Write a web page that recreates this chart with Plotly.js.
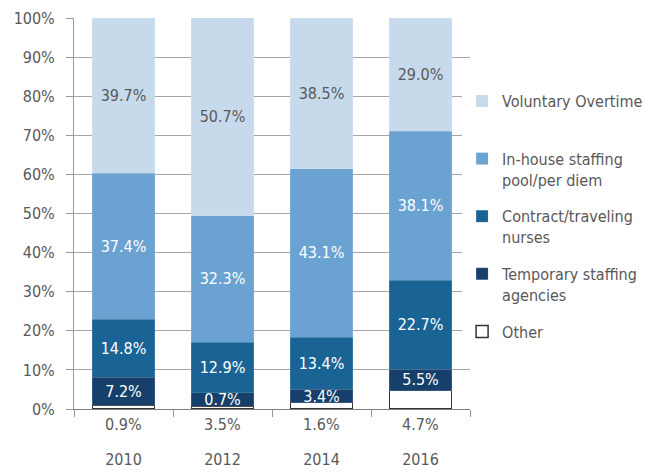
<!DOCTYPE html>
<html>
<head>
<meta charset="utf-8">
<script src="https://cdn.plot.ly/plotly-3.0.1.min.js"></script>
<style>
  body { margin: 0; background: #fff; }
  #chart { width: 645px; height: 472px; }
</style>
</head>
<body>
<div id="chart"></div>
<script>
// survey years
const years = ['2010', '2012', '2014', '2016'];

// segment heights as drawn (percent of total)
const otherVals     = [0.9, 0.7, 1.6, 4.7];
const temporaryVals = [7.2, 3.5, 3.4, 5.5];
const contractVals  = [14.8, 12.9, 13.4, 22.7];
const inHouseVals   = [37.4, 32.3, 43.1, 38.1];
const voluntaryVals = [39.7, 50.7, 38.5, 29.0];

// labels as printed on the chart
const otherLabels     = ['0.9%', '3.5%', '1.6%', '4.7%'];
const temporaryLabels = ['7.2%', '0.7%', '3.4%', '5.5%'];

const font = '"DejaVu Sans Condensed", "Liberation Sans Narrow", sans-serif';
const grey = '#595959';

function pct(arr) {
  return arr.map(v => v.toFixed(1) + '%');
}

function seg(name, vals, labels, color, textColor, rank) {
  return {
    type: 'bar',
    name: name,
    x: years,
    y: vals,
    text: labels,
    textposition: 'inside',
    insidetextanchor: 'middle',
    textangle: 0,
    constraintext: 'none',
    textfont: { family: font, size: 16, color: textColor },
    marker: { color: color, line: { color: 'rgba(255,255,255,0.25)', width: 0.5 } },
    legendgroup: 'g' + rank,
    legendrank: rank,
    hoverinfo: 'skip'
  };
}

const traces = [
  {
    type: 'bar',
    name: 'Other',
    x: years,
    y: otherVals,
    marker: { color: '#ffffff', line: { color: '#333333', width: 1.5 } },
    legendgroup: 'g5',
    legendrank: 5,
    hoverinfo: 'skip'
  },
  seg('Temporary staffing<br>agencies', temporaryVals, temporaryLabels, '#163f6b', '#ffffff', 4),
  seg('Contract/traveling<br>nurses', contractVals, pct(contractVals), '#1a6495', '#ffffff', 3),
  seg('In-house staffing<br>pool/per diem', inHouseVals, pct(inHouseVals), '#6aa2d1', '#ffffff', 2),
  seg('Voluntary Overtime<br> ', voluntaryVals, pct(voluntaryVals), '#c6daec', grey, 1)
];

// "Other" values are printed under the axis
const annotations = years.map((yr, i) => ({
  x: i,
  y: 0,
  xref: 'x',
  yref: 'y',
  yanchor: 'top',
  yshift: -4,
  text: otherLabels[i],
  showarrow: false,
  font: { family: font, size: 16, color: grey }
}));

const layout = {
  width: 645,
  height: 472,
  margin: { l: 74, r: 175, t: 18, b: 63, autoexpand: false },
  barmode: 'stack',
  bargap: 0.37,
  paper_bgcolor: '#ffffff',
  plot_bgcolor: '#ffffff',
  font: { family: font, size: 16, color: grey },
  xaxis: {
    type: 'category',
    tickson: 'boundaries',
    ticks: 'outside',
    ticklen: 7,
    tickcolor: '#999999',
    showline: true,
    linecolor: '#808080',
    showgrid: false,
    ticklabelstandoff: 36,
    tickfont: { family: font, size: 16, color: grey }
  },
  yaxis: {
    range: [0, 100],
    dtick: 10,
    ticksuffix: '%',
    ticks: 'outside',
    ticklen: 7,
    tickcolor: '#999999',
    showline: true,
    linecolor: '#999999',
    gridcolor: '#a6a6a6',
    zeroline: false,
    ticklabelstandoff: 8,
    tickfont: { family: font, size: 16, color: grey }
  },
  legend: {
    x: 0.98,
    xanchor: 'left',
    y: 0.831,
    yanchor: 'top',
    traceorder: 'grouped',
    tracegroupgap: 13,
    valign: 'top',
    font: { family: font, size: 16, color: grey }
  },
  annotations: annotations,
  showlegend: true
};

Plotly.newPlot('chart', traces, layout, { displayModeBar: false, staticPlot: true });
</script>
</body>
</html>
